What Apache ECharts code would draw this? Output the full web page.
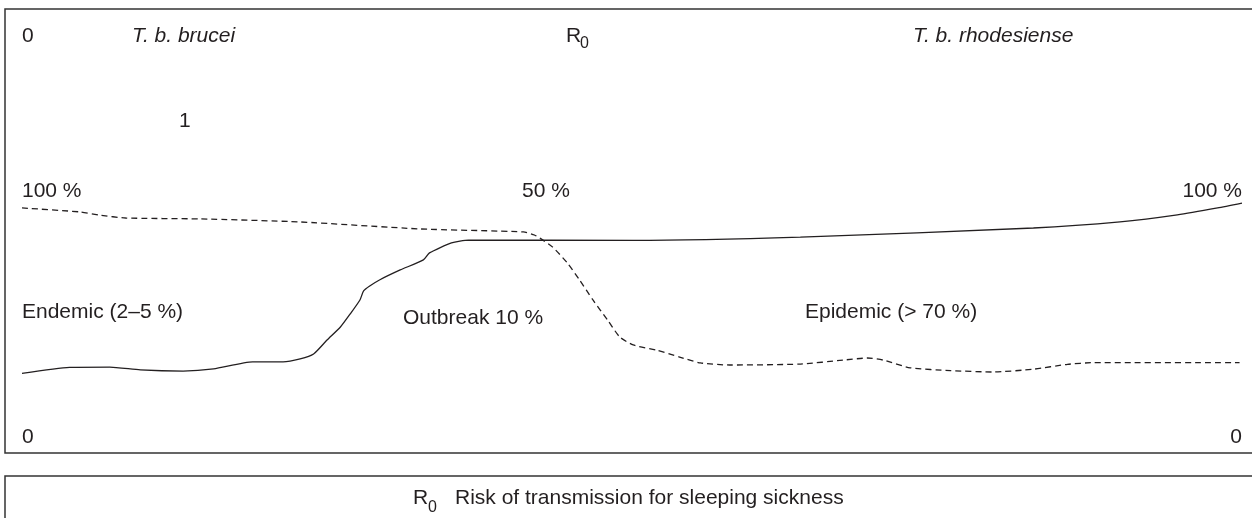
<!DOCTYPE html>
<html>
<head>
<meta charset="utf-8">
<script src="https://cdn.jsdelivr.net/npm/echarts@6/dist/echarts.min.js"></script>
<style>
    html, body { margin: 0; padding: 0; background: #fff; }
    #chart { width: 1252px; height: 518px; }
</style>
</head>
<body>
<div id="chart"></div>
<script>
// prevalence curves, x = R0 scale (0..100), y = % (0..100)
const solidX = [0, 3.9, 7.2, 9.7, 13.2, 15.7, 18.9, 21.4, 22.8, 23.9, 25.0, 26.1, 26.9, 27.7, 28.0, 28.5, 29.3, 31.0, 32.9, 33.4, 35.2, 36.6, 50.1, 63.8, 82.9, 90.0, 94.7, 98.0, 100];
const solidY = [27.3, 29.9, 30.0, 28.8, 28.3, 29.2, 32.2, 32.2, 33.5, 35.6, 41.6, 47.2, 52.8, 58.8, 62.7, 64.8, 67.4, 71.7, 76.0, 79.0, 83.3, 84.5, 84.4, 85.8, 89.7, 92.3, 95.3, 98.3, 100.4];

const dashX = [0, 4.75, 6.4, 8.5, 14.6, 22.8, 32.6, 41.1, 42.0, 42.7, 43.5, 44.7, 45.7, 46.8, 48.0, 49.0, 50.1, 52.0, 53.9, 55.6, 58.0, 63.8, 67.3, 69.3, 70.6, 72.8, 76.1, 79.6, 82.9, 85.7, 87.8, 99.8];
const dashY = [98.3, 96.6, 95.2, 94.0, 93.6, 92.3, 89.3, 88.0, 86.7, 84.5, 81.5, 74.7, 67.4, 58.8, 50.2, 42.9, 39.5, 37.3, 34.3, 31.8, 30.9, 31.3, 33.0, 33.9, 33.0, 29.7, 28.5, 27.9, 29.1, 31.2, 31.9, 31.9];

const FONT = '"Liberation Sans", Arial, Helvetica, sans-serif';
const INK = "#231f20";

const txt = (text, x, y, opts = {}) => ({
    type: "text",
    x: x,
    y: y,
    silent: true,
    style: {
        text: text,
        fill: INK,
        font: `${opts.italic ? "italic " : ""}${opts.size || 21}px ${FONT}`,
        textAlign: opts.align || "left",
        textVerticalAlign: "middle"
    }
});

const chart = echarts.init(document.getElementById("chart"));

const option = {
    animation: false,
    backgroundColor: "#fff",
    grid: { left: 22, right: 10, top: 204, bottom: 81 },
    xAxis: { type: "value", min: 0, max: 100, show: false },
    yAxis: { type: "value", min: 0, max: 100, show: false },
    graphic: [
        { type: "rect", silent: true, shape: { x: 5, y: 9, width: 1260, height: 444 }, style: { fill: "none", stroke: "#333", lineWidth: 1.5 } },
        { type: "rect", silent: true, shape: { x: 5, y: 476, width: 1260, height: 60 }, style: { fill: "none", stroke: "#333", lineWidth: 1.5 } },
        txt("0", 22, 36),
        txt("T. b. brucei", 132, 36, { italic: true }),
        txt("R", 566, 36),
        txt("0", 580, 44, { size: 16 }),
        txt("T. b. rhodesiense", 913, 36, { italic: true }),
        txt("1", 179, 121),
        txt("100 %", 22, 191),
        txt("50 %", 522, 191),
        txt("100 %", 1242, 191, { align: "right" }),
        txt("Endemic (2–5 %)", 22, 312),
        txt("Outbreak 10 %", 403, 318),
        txt("Epidemic (> 70 %)", 805, 312),
        txt("0", 22, 437),
        txt("0", 1242, 437, { align: "right" }),
        txt("R", 413, 498),
        txt("0", 428, 508, { size: 16 }),
        txt("Risk of transmission for sleeping sickness", 455, 498)
    ],
    series: [
        {
            type: "line",
            data: solidX.map((x, i) => [x, solidY[i]]),
            showSymbol: false,
            clip: false,
            smooth: 0.2,
            lineStyle: { color: INK, width: 1.3 }
        },
        {
            type: "line",
            data: dashX.map((x, i) => [x, dashY[i]]),
            showSymbol: false,
            clip: false,
            smooth: 0.2,
            lineStyle: { color: INK, width: 1.3, type: [6, 4] }
        }
    ]
};

chart.setOption(option);
</script>
</body>
</html>
